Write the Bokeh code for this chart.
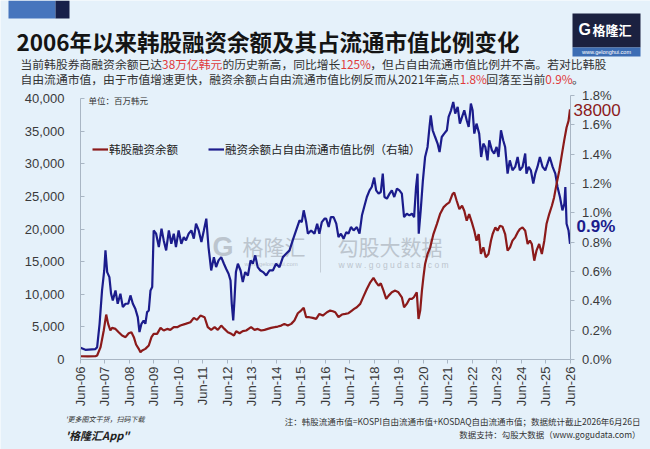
import math
from bokeh.plotting import figure
from bokeh.models import (Range1d, LinearAxis, FixedTicker, NumeralTickFormatter,
                          PrintfTickFormatter, Legend, LegendItem, Label, BoxAnnotation)
from bokeh.embed import file_html
from bokeh.resources import INLINE

# ---------------- data ----------------
bal_years = [2006.50, 2006.80, 2007.11, 2007.18, 2007.32, 2007.45, 2007.55, 2007.63, 2007.72, 2007.79,
             2007.93, 2008.06, 2008.20, 2008.34, 2008.47, 2008.58, 2008.68, 2008.77, 2008.88, 2008.95,
             2009.02, 2009.15, 2009.29, 2009.40, 2009.49, 2009.63, 2009.77, 2009.90, 2010.04, 2010.17,
             2010.31, 2010.45, 2010.58, 2010.79, 2010.99, 2011.13, 2011.26, 2011.40, 2011.57, 2011.70,
             2011.84, 2011.98, 2012.11, 2012.25, 2012.38, 2012.52, 2012.66, 2012.77, 2012.86, 2013.00,
             2013.13, 2013.27, 2013.47, 2013.61, 2013.74, 2013.88, 2014.02, 2014.15, 2014.29, 2014.43,
             2014.56, 2014.70, 2014.83, 2014.97, 2015.11, 2015.24, 2015.38, 2015.51, 2015.62, 2015.72,
             2015.85, 2015.99, 2016.13, 2016.26, 2016.40, 2016.57, 2016.70, 2016.81, 2016.91, 2017.04,
             2017.18, 2017.32, 2017.45, 2017.59, 2017.68, 2017.79, 2017.93, 2018.06, 2018.20, 2018.34,
             2018.47, 2018.58, 2018.68, 2018.77, 2018.88, 2018.99, 2019.09, 2019.22, 2019.36, 2019.49,
             2019.63, 2019.72, 2019.83, 2019.94, 2020.04, 2020.12, 2020.24, 2020.31, 2020.38, 2020.45,
             2020.51, 2020.58, 2020.68, 2020.79, 2020.92, 2021.06, 2021.19, 2021.33, 2021.47, 2021.57,
             2021.70, 2021.77, 2021.87, 2021.98, 2022.09, 2022.18, 2022.28, 2022.38, 2022.49, 2022.59,
             2022.68, 2022.77, 2022.86, 2022.96, 2023.06, 2023.17, 2023.27, 2023.34, 2023.45, 2023.54,
             2023.64, 2023.74, 2023.85, 2023.95, 2024.05, 2024.15, 2024.26, 2024.36, 2024.45, 2024.56,
             2024.67, 2024.77, 2024.86, 2024.94, 2025.04, 2025.13, 2025.24, 2025.35, 2025.45, 2025.54,
             2025.65, 2025.76, 2025.85, 2025.95, 2026.06, 2026.17, 2026.26, 2026.36, 2026.44, 2026.50]
balance = [500, 480, 500, 610, 1890, 4440, 6890, 5460, 4440, 4850,
           4690, 4180, 3670, 3420, 4030, 4180, 3420, 2300, 1630, 1120,
           1380, 1630, 2140, 3420, 3930, 3930, 4850, 4440, 4690, 4540,
           4950, 4950, 5200, 5460, 5710, 6380, 6070, 6730, 6480, 4950,
           4540, 4950, 4540, 5200, 4690, 4180, 3930, 3670, 4340, 4030,
           4340, 4440, 4950, 4540, 4690, 4440, 4540, 4690, 4850, 4950,
           5050, 5200, 5460, 5200, 5460, 5970, 7090, 7500, 7910, 6480,
           6480, 6380, 6220, 6990, 6730, 7240, 7500, 7400, 7240, 6480,
           6890, 6990, 7090, 7500, 7750, 8010, 8520, 9640, 10810, 11830,
           12500, 11830, 11320, 11680, 10560, 9280, 9790, 10300, 10560, 10300,
           9540, 8010, 8520, 9280, 9280, 9540, 10300, 6220, 7500, 10560,
           12600, 14640, 16170, 17190, 19230, 20760, 22290, 23310, 23820, 24070,
           25350, 25600, 24330, 23050, 23560, 22800, 21270, 22290, 21010, 19740,
           18210, 19230, 16170, 17190, 15660, 16170, 18210, 19230, 20250, 19740,
           20500, 20350, 19230, 16680, 17190, 18210, 18720, 19480, 19990, 20250,
           19740, 17700, 18210, 17700, 15150, 16680, 17700, 16170, 18210, 20760,
           22290, 23560, 24840, 26880, 28920, 31470, 33510, 35550, 36570, 38350]

ratio_years = [2006.50, 2006.70, 2007.11, 2007.18, 2007.28, 2007.38, 2007.47, 2007.52, 2007.59, 2007.68,
               2007.75, 2007.82, 2007.93, 2008.02, 2008.13, 2008.23, 2008.34, 2008.45, 2008.54, 2008.64,
               2008.74, 2008.84, 2008.91, 2008.99, 2009.08, 2009.15, 2009.22, 2009.29, 2009.36, 2009.43,
               2009.49, 2009.59, 2009.70, 2009.81, 2009.90, 2010.00, 2010.11, 2010.21, 2010.31, 2010.40,
               2010.51, 2010.62, 2010.72, 2010.81, 2010.92, 2011.03, 2011.13, 2011.22, 2011.33, 2011.44,
               2011.54, 2011.64, 2011.73, 2011.84, 2011.95, 2012.04, 2012.14, 2012.25, 2012.36, 2012.45,
               2012.55, 2012.63, 2012.68, 2012.74, 2012.79, 2012.85, 2012.93, 2013.04, 2013.13, 2013.23,
               2013.34, 2013.45, 2013.54, 2013.64, 2013.74, 2013.85, 2013.96, 2014.09, 2014.22, 2014.36,
               2014.49, 2014.63, 2014.77, 2014.90, 2015.04, 2015.17, 2015.31, 2015.45, 2015.54, 2015.62,
               2015.72, 2015.79, 2015.92, 2016.06, 2016.17, 2016.26, 2016.36, 2016.47, 2016.54, 2016.64,
               2016.73, 2016.84, 2016.95, 2017.04, 2017.14, 2017.25, 2017.36, 2017.45, 2017.55, 2017.66,
               2017.79, 2017.90, 2018.00, 2018.09, 2018.20, 2018.31, 2018.40, 2018.50, 2018.58, 2018.68,
               2018.77, 2018.85, 2018.92, 2019.02, 2019.13, 2019.22, 2019.32, 2019.43, 2019.53, 2019.63,
               2019.72, 2019.83, 2019.94, 2020.04, 2020.13, 2020.21, 2020.27, 2020.32, 2020.40, 2020.49,
               2020.58, 2020.68, 2020.76, 2020.81, 2020.89, 2020.99, 2021.09, 2021.17, 2021.26, 2021.36,
               2021.47, 2021.54, 2021.64, 2021.73, 2021.81, 2021.91, 2022.00, 2022.09, 2022.18, 2022.28,
               2022.36, 2022.45, 2022.52, 2022.59, 2022.68, 2022.79, 2022.87, 2022.96, 2023.04, 2023.13,
               2023.20, 2023.31, 2023.40, 2023.50, 2023.58, 2023.68, 2023.77, 2023.85, 2023.95, 2024.04,
               2024.15, 2024.26, 2024.36, 2024.45, 2024.56, 2024.67, 2024.72, 2024.81, 2024.90, 2025.00,
               2025.08, 2025.17, 2025.27, 2025.38, 2025.49, 2025.58, 2025.67, 2025.79, 2025.90, 2025.99,
               2026.09, 2026.19, 2026.27, 2026.31, 2026.36, 2026.44, 2026.50]
ratio = [0.080, 0.066, 0.071, 0.084, 0.243, 0.471, 0.607, 0.744, 0.596, 0.562,
         0.448, 0.403, 0.471, 0.380, 0.448, 0.357, 0.380, 0.380, 0.437, 0.380,
         0.346, 0.289, 0.187, 0.243, 0.266, 0.243, 0.323, 0.334, 0.471, 0.494,
         0.880, 0.858, 0.767, 0.892, 0.812, 0.744, 0.880, 0.789, 0.858, 0.767,
         0.880, 0.789, 0.835, 0.812, 0.858, 0.880, 0.824, 0.926, 0.880, 0.801,
         0.880, 0.960, 0.767, 0.607, 0.698, 0.630, 0.676, 0.698, 0.653, 0.619,
         0.585, 0.539, 0.380, 0.266, 0.403, 0.596, 0.653, 0.607, 0.528, 0.596,
         0.573, 0.676, 0.653, 0.710, 0.630, 0.607, 0.596, 0.573, 0.607, 0.607,
         0.653, 0.630, 0.698, 0.721, 0.744, 0.812, 0.880, 0.949, 0.937, 1.017,
         0.937, 0.858, 0.880, 0.858, 0.926, 0.858, 0.937, 0.960, 0.960, 0.903,
         0.971, 0.971, 0.926, 0.835, 0.858, 0.824, 0.869, 0.858, 0.903, 0.880,
         0.903, 0.858, 0.983, 1.040, 1.108, 1.153, 1.176, 1.240, 1.153, 1.131,
         1.142, 1.267, 1.108, 1.097, 1.131, 1.153, 1.108, 1.165, 1.153, 1.131,
         0.971, 0.994, 0.983, 0.994, 0.971, 1.176, 1.267, 0.858, 1.017, 1.222,
         1.381, 1.449, 1.586, 1.665, 1.563, 1.517, 1.472, 1.415, 1.517, 1.540,
         1.563, 1.654, 1.699, 1.756, 1.677, 1.722, 1.608, 1.654, 1.699, 1.631,
         1.586, 1.745, 1.699, 1.540, 1.608, 1.540, 1.381, 1.472, 1.449, 1.358,
         1.495, 1.426, 1.404, 1.449, 1.381, 1.563, 1.495, 1.449, 1.267, 1.358,
         1.290, 1.313, 1.381, 1.290, 1.313, 1.404, 1.267, 1.313, 1.290, 1.199,
         1.267, 1.313, 1.381, 1.313, 1.290, 1.335, 1.381, 1.313, 1.267, 1.176,
         1.108, 1.017, 1.062, 1.176, 0.926, 0.880, 0.789]

x_ticks = [2006.5 + i for i in range(21)]
x_tick_labels = ["Jun-06", "Jun-07", "Jun-08", "Jun-09", "Jun-10", "Jun-11", "Jun-12",
                 "Jun-13", "Jun-14", "Jun-15", "Jun-16", "Jun-17", "Jun-18", "Jun-19",
                 "Jun-20", "Jun-21", "Jun-22", "Jun-23", "Jun-24", "Jun-25", "Jun-26"]
left_ticks = [0, 5000, 10000, 15000, 20000, 25000, 30000, 35000, 40000]
right_ticks = [0.0, 0.2, 0.4, 0.6, 0.8, 1.0, 1.2, 1.4, 1.6, 1.8]

series_names = ["韩股融资余额", "融资余额占自由流通市值比例（右轴）"]
title_text = "2006年以来韩股融资余额及其占流通市值比例变化"
sub1 = [("当前韩股券商融资余额已达", False), ("38万亿韩元", True), ("的历史新高，同比增长", False),
        ("125%", True), ("，但占自由流通市值比例并不高。若对比韩股", False)]
sub2 = [("自由流通市值，由于市值增速更快，融资余额占自由流通市值比例反而从2021年高点", False),
        ("1.8%", True), ("回落至当前", False), ("0.9%", True), ("。", False)]
unit_text = "单位：百万韩元"
end_bal_label = "38000"
end_ratio_label = "0.9%"
note1 = "注：韩股流通市值=KOSPI自由流通市值+KOSDAQ自由流通市值；数据统计截止2026年6月26日"
note2 = "数据支持：勾股大数据（www.gogudata.com）"

# ---------------- layout / style ----------------
W, H = 650, 449
PX_X0, PX_X1 = 80.0, 569.5     # pixel positions of first / last x tick
PX_Y0 = 359.0                  # pixel row of value 0
PX_L40K = 98.0                 # pixel row of 40,000 (left axis)
PX_R18 = 95.0                  # pixel row of 1.8% (right axis)

x0, x1 = x_ticks[0], x_ticks[-1]
sx = (x1 - x0) / (PX_X1 - PX_X0)
ly = left_ticks[-1] / (PX_Y0 - PX_L40K)
ry = right_ticks[-1] / (PX_Y0 - PX_R18)

BG = "#e5f1fa"
RED = "#8b1a1a"
BLUE = "#1b1c8c"
CJK = "Noto Sans CJK SC"
LAT = "Liberation Sans"
AX = "#a9b6c4"
TXT = "#3a3a3a"

p = figure(width=W, height=H,
           x_range=Range1d(x0 - PX_X0 * sx, x1 + (W - PX_X1) * sx),
           y_range=Range1d(-(H - PX_Y0) * ly, PX_Y0 * ly),
           x_axis_location=None, y_axis_location=None,
           output_backend="svg", toolbar_location=None,
           min_border=0, min_border_left=0, min_border_right=0, min_border_top=0, min_border_bottom=0,
           background_fill_color=BG, border_fill_color=BG, outline_line_color=None)
p.grid.visible = False
p.extra_y_ranges = {"pct": Range1d(-(H - PX_Y0) * ry, PX_Y0 * ry)}

def style_axis(a, tin, tout, standoff):
    a.major_tick_in = tin
    a.major_tick_out = tout
    a.minor_tick_line_color = None
    a.axis_line_color = AX
    a.major_tick_line_color = AX
    a.major_label_standoff = standoff
    a.major_label_text_font = LAT
    a.major_label_text_font_size = "13px"
    a.major_label_text_color = TXT

xa = LinearAxis(ticker=FixedTicker(ticks=x_ticks), fixed_location=0, bounds=(x0, x1))
xa.major_label_overrides = {t: l for t, l in zip(x_ticks, x_tick_labels)}
xa.major_label_orientation = math.pi / 2
style_axis(xa, 0, 4, 3)
p.add_layout(xa, "below")

ya = LinearAxis(ticker=FixedTicker(ticks=left_ticks), formatter=NumeralTickFormatter(format="0,0"),
                fixed_location=x0, bounds=(0, left_ticks[-1]))
style_axis(ya, 4, 0, 16)
p.add_layout(ya, "left")

ra = LinearAxis(y_range_name="pct", ticker=FixedTicker(ticks=right_ticks),
                formatter=PrintfTickFormatter(format="%.1f%%"),
                fixed_location=x1, bounds=(0, right_ticks[-1]))
style_axis(ra, 0, 4, 8)
p.add_layout(ra, "right")

def lab(x, y, text, size, color, font=CJK, style="normal", align="left", alpha=1.0, level="annotation"):
    l = Label(x=x, y=y, x_units="canvas", y_units="canvas", text=text,
              text_font=font, text_font_size=size, text_color=color, text_font_style=style,
              text_align=align, text_baseline="middle", text_alpha=alpha, level=level)
    p.add_layout(l)
    return l

def box(l, r, t, b, color, alpha=1.0, level="annotation"):
    p.add_layout(BoxAnnotation(left=l, right=r, top=t, bottom=b,
                               left_units="canvas", right_units="canvas",
                               top_units="canvas", bottom_units="canvas",
                               fill_color=color, fill_alpha=alpha, line_color=None, level=level))

# watermarks (under the lines)
WM = "#bcc5ce"
lab(212, 246, "G", "27px", WM, font=LAT, style="bold", level="underlay")
lab(242, 245, "格隆汇", "21px", WM, level="underlay")
lab(244, 263, "www.gelonghui.com", "6px", WM, font=LAT, level="underlay")
lab(337, 245, "勾股大数据", "21px", WM, level="underlay")
lab(338, 264, "w w w . g o g u d a t a . c o m", "8.5px", WM, font=LAT, level="underlay")
box(319.5, 320.5, 233, 272, WM, 0.8, "underlay")

r_ratio = p.line(ratio_years, ratio, y_range_name="pct", line_color=BLUE, line_width=2.2)
r_bal = p.line(bal_years, balance, line_color=RED, line_width=2.2)

legend = Legend(items=[LegendItem(label=series_names[0], renderers=[r_bal]),
                       LegendItem(label=series_names[1], renderers=[r_ratio])],
                orientation="horizontal", location=(92, 292),
                background_fill_alpha=0, border_line_alpha=0,
                label_text_font=CJK, label_text_font_size="11.5px", label_text_color="#222222",
                glyph_width=16, glyph_height=12, label_standoff=1, spacing=30,
                padding=0, margin=0)
p.add_layout(legend)

# title / subtitles
lab(16, 40, title_text, "22.5px", "#141414", style="bold")

def width_em(s):
    w = 0.0
    for ch in s:
        if ord(ch) > 0x2E80:
            w += 1.0
        elif ch.isdigit():
            w += 0.555
        elif ch == "%":
            w += 0.87
        elif ch == ".":
            w += 0.28
        else:
            w += 0.5
    return w

SUB = 11.8
def seg_line(parts, xstart, y):
    x = xstart
    for s, hl in parts:
        lab(x, y, s, f"{SUB}px", "#e03a3a" if hl else "#333333")
        x += width_em(s) * SUB

seg_line(sub1, 20, 62.5)
seg_line(sub2, 20, 78)

lab(88, 99, unit_text, "8.5px", "#333333")
lab(573, 109, end_bal_label, "17px", RED, font=LAT)
lab(576, 226, end_ratio_label, "17px", BLUE, font=LAT, style="bold")

# top decorations
box(8, 55, 0, 18, "#4675bd")
box(55, 69, 0, 18, "#17204a")
box(572, 640, 13, 47, "#1b2140")
box(572, 640, 47, 56, "#3c6db4")
lab(578, 29, "G", "16px", "white", font=LAT, style="bold")
lab(592, 29, "格隆汇", "13px", "white", style="bold")
lab(606, 51.5, "www.gelonghui.com", "5.5px", "white", font=LAT, align="center")

# footer
lab(65, 418, "'更多图文干货，扫码下载", "7px", "#333333", style="italic")
lab(65, 434, "'格隆汇App\"", "11px", "#222222", style="bold italic")
lab(640, 420, note1, "8.5px", "#333333", align="right")
lab(640, 433, note2, "8.5px", "#333333", align="right")

open("out.html", "w").write(file_html(p, INLINE))
